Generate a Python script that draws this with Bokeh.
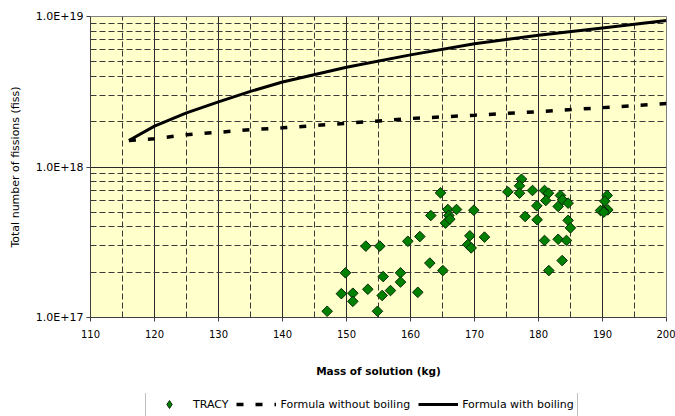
import numpy as np
from bokeh.plotting import figure
from bokeh.layouts import column
from bokeh.models import (FixedTicker, CustomJSTickFormatter, Legend, LegendItem,
                          ColumnDataSource, Range1d)
from bokeh.embed import file_html
from bokeh.resources import INLINE

# ---- data ----
tracy_mass = [146.98, 149.2, 149.84, 150.99, 150.99, 153.02, 153.33, 154.84, 155.21,
              155.57, 155.73, 156.87, 158.44, 158.44, 159.58, 161.14, 161.46, 163.02,
              163.17, 164.69, 165.05, 165.47, 165.83, 165.99, 166.14, 167.19, 169.89,
              169.27, 168.96, 169.48, 171.56, 175.21, 177.34, 177.03, 177.03, 177.91,
              179.06, 179.74, 179.79, 180.94, 181.56, 181.14, 180.94, 181.61, 183.07,
              183.43, 183.75, 184.63, 183.07, 183.70, 184.37, 184.63, 184.99, 190.73,
              190.36, 190.83, 190.10, 189.69, 190.21]
tracy_fissions = [1.10e17, 1.44e17, 1.98e17, 1.45e17, 1.28e17, 2.98e17, 1.54e17, 1.10e17, 2.98e17,
                  1.40e17, 1.87e17, 1.51e17, 1.98e17, 1.72e17, 3.21e17, 1.47e17, 3.45e17, 2.30e17,
                  4.76e17, 6.73e17, 2.05e17, 4.24e17, 5.22e17, 4.76e17, 4.50e17, 5.22e17, 5.16e17,
                  3.49e17, 3.05e17, 2.90e17, 3.42e17, 6.84e17, 8.30e17, 7.50e17, 6.70e17, 4.69e17,
                  6.98e17, 5.52e17, 4.46e17, 6.98e17, 6.70e17, 5.99e17, 3.25e17, 2.05e17, 5.47e17,
                  6.47e17, 6.05e17, 5.75e17, 3.31e17, 2.39e17, 3.25e17, 4.42e17, 3.94e17, 6.47e17,
                  5.93e17, 5.19e17, 5.14e17, 5.14e17, 5.01e17]

boil_mass = [116, 120, 125, 130, 135, 140, 150, 160, 170, 180, 190, 200]
boil_fissions = [1.50e18, 1.87e18, 2.29e18, 2.71e18, 3.18e18, 3.67e18, 4.60e18, 5.56e18,
                 6.59e18, 7.50e18, 8.40e18, 9.40e18]

noboil_mass = [116, 120, 125, 130, 135, 140, 150, 160, 170, 180, 190, 200]
noboil_fissions = [1.50e18, 1.54e18, 1.64e18, 1.70e18, 1.77e18, 1.82e18, 1.95e18, 2.10e18,
                   2.21e18, 2.33e18, 2.48e18, 2.64e18]

x_major_ticks = [110, 120, 130, 140, 150, 160, 170, 180, 190, 200]
x_minor_ticks = [115, 125, 135, 145, 155, 165, 175, 185, 195]
y_major_ticks = [1e17, 1e18, 1e19]
y_minor_ticks = [m * 10.0 ** e for e in (17, 18) for m in range(2, 10)]

FONT = "DejaVu Sans"

p = figure(width=675, height=393, x_range=Range1d(110, 200), y_range=Range1d(1e17, 1e19),
           y_axis_type="log", output_backend="svg", toolbar_location=None,
           min_border_left=90, min_border_right=9, min_border_top=16, min_border_bottom=76)
p.background_fill_color = "#FFFFCC"
p.border_fill_color = "white"
p.outline_line_color = "#808080"
p.outline_line_width = 1

# axes
p.xaxis.ticker = FixedTicker(ticks=x_major_ticks, minor_ticks=x_minor_ticks)
p.yaxis.ticker = FixedTicker(ticks=y_major_ticks, minor_ticks=y_minor_ticks)
p.yaxis.formatter = CustomJSTickFormatter(code="return tick.toExponential(1).toUpperCase();")

for ax in (p.xaxis[0], p.yaxis[0]):
    ax.minor_tick_line_color = None
    ax.major_tick_out = 4
    ax.major_tick_in = 0
    ax.axis_line_color = "#404040"
    ax.major_tick_line_color = "#404040"
    ax.major_label_text_font = FONT
    ax.major_label_text_color = "black"
    ax.axis_label_text_font = FONT
    ax.axis_label_text_color = "black"

p.xaxis.major_label_text_font_size = "10px"
p.yaxis.major_label_text_font_size = "11px"

p.xaxis.axis_label = "Mass of solution (kg)"
p.xaxis.axis_label_text_font_style = "bold"
p.xaxis.axis_label_text_font_size = "10.5px"
p.xaxis.major_label_standoff = 8
p.xaxis.axis_label_standoff = 24

p.yaxis.axis_label = "Total number of fissions (fiss)"
p.yaxis.axis_label_text_font_style = "normal"
p.yaxis.axis_label_text_font_size = "11px"
p.yaxis.major_label_standoff = 3
p.yaxis.axis_label_standoff = 11

# grids
for g in (p.xgrid[0], p.ygrid[0]):
    g.grid_line_color = "#2a2a2a"
    g.grid_line_width = 1
    g.minor_grid_line_color = "#3a3a3a"
    g.minor_grid_line_width = 1
    g.minor_grid_line_dash = "6 3"

# data
src_t = ColumnDataSource(dict(x=tracy_mass, y=tracy_fissions))
src_b = ColumnDataSource(dict(x=boil_mass, y=boil_fissions))
src_n = ColumnDataSource(dict(x=noboil_mass, y=noboil_fissions))

DASH = "7 12"
p.line("x", "y", source=src_n, line_color="black", line_width=3.5, line_dash=DASH)
p.line("x", "y", source=src_b, line_color="black", line_width=3)
p.scatter("x", "y", source=src_t, marker="square", angle=np.pi / 4, size=7.5,
          fill_color="#008000", line_color="#0b2b0b", line_width=1)

# ---- legend strip below the chart (its own small figure, same sources) ----
lf = figure(width=675, height=23, x_range=Range1d(0, 10), y_range=Range1d(1, 10),
            y_axis_type="log", output_backend="svg", toolbar_location=None,
            x_axis_location=None, y_axis_location=None,
            min_border_left=0, min_border_right=0, min_border_top=0, min_border_bottom=0)
lf.outline_line_color = None
lf.background_fill_color = "white"
lf.border_fill_color = "white"
lf.xgrid.visible = False
lf.ygrid.visible = False

l_t = lf.scatter("x", "y", source=src_t, marker="diamond", size=9,
                 fill_color="#008000", line_color="#0b2b0b", line_width=1)
l_n = lf.line("x", "y", source=src_n, line_color="black", line_width=3.5, line_dash=DASH)
l_b = lf.line("x", "y", source=src_b, line_color="black", line_width=3)

legend = Legend(items=[LegendItem(label="TRACY", renderers=[l_t]),
                       LegendItem(label="Formula without boiling", renderers=[l_n]),
                       LegendItem(label="Formula with boiling", renderers=[l_b])],
                orientation="horizontal", location=(55, -2))
legend.label_text_font = FONT
legend.label_text_font_size = "11px"
legend.label_text_color = "black"
legend.glyph_width = 40
legend.glyph_height = 20
legend.label_height = 20
legend.label_standoff = 4
legend.spacing = 8
legend.padding = 3
legend.margin = 0
legend.border_line_color = "#808080"
legend.border_line_width = 1
legend.background_fill_color = "white"
legend.background_fill_alpha = 1
lf.add_layout(legend, "center")

layout = column(p, lf, spacing=0)
open("out.html", "w").write(file_html(layout, INLINE))
